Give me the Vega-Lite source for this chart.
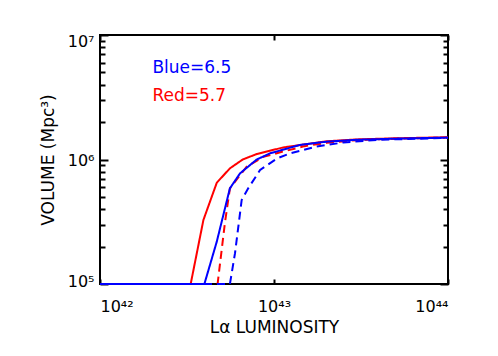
{
  "$schema": "https://vega.github.io/schema/vega-lite/v6.json",
  "width": 348,
  "height": 249,
  "autosize": {"type": "none"},
  "padding": {"left": 100, "top": 35, "right": 50, "bottom": 72},
  "background": "white",
  "config": {
    "view": {"stroke": "black", "strokeWidth": 2},
    "font": "DejaVu Sans",
    "axis": {"labelFont": "DejaVu Sans", "titleFont": "DejaVu Sans", "labelColor": "black", "titleColor": "black", "tickColor": "black", "grid": false, "domain": false, "tickWidth": 2, "labelFontSize": 16, "titleFontSize": 17, "titleFontWeight": "normal"}
  },
  "datasets": {
    "curves": [
      {"L": 1e42, "V": 1e5, "model": "red", "style": "solid"},
      {"L": 3.32e42, "V": 1e5, "model": "red", "style": "solid"},
      {"L": 3.93e42, "V": 3.27e5, "model": "red", "style": "solid"},
      {"L": 4.69e42, "V": 6.51e5, "model": "red", "style": "solid"},
      {"L": 5.58e42, "V": 8.49e5, "model": "red", "style": "solid"},
      {"L": 6.61e42, "V": 1.0e6, "model": "red", "style": "solid"},
      {"L": 7.96e42, "V": 1.107e6, "model": "red", "style": "solid"},
      {"L": 1.13e43, "V": 1.25e6, "model": "red", "style": "solid"},
      {"L": 2e43, "V": 1.40e6, "model": "red", "style": "solid"},
      {"L": 3e43, "V": 1.45e6, "model": "red", "style": "solid"},
      {"L": 5e43, "V": 1.48e6, "model": "red", "style": "solid"},
      {"L": 1e44, "V": 1.51e6, "model": "red", "style": "solid"},

      {"L": 1e42, "V": 1e5, "model": "red", "style": "dashed"},
      {"L": 4.74e42, "V": 1e5, "model": "red", "style": "dashed"},
      {"L": 5.22e42, "V": 3.08e5, "model": "red", "style": "dashed"},
      {"L": 5.58e42, "V": 5.87e5, "model": "red", "style": "dashed"},
      {"L": 6.96e42, "V": 8.75e5, "model": "red", "style": "dashed"},
      {"L": 8.68e42, "V": 1.05e6, "model": "red", "style": "dashed"},
      {"L": 1.13e43, "V": 1.16e6, "model": "red", "style": "dashed"},
      {"L": 1.5e43, "V": 1.28e6, "model": "red", "style": "dashed"},
      {"L": 2e43, "V": 1.36e6, "model": "red", "style": "dashed"},
      {"L": 3e43, "V": 1.43e6, "model": "red", "style": "dashed"},
      {"L": 5e43, "V": 1.47e6, "model": "red", "style": "dashed"},
      {"L": 1e44, "V": 1.50e6, "model": "red", "style": "dashed"},

      {"L": 1e42, "V": 1e5, "model": "blue", "style": "solid"},
      {"L": 3.98e42, "V": 1e5, "model": "blue", "style": "solid"},
      {"L": 4.69e42, "V": 2.19e5, "model": "blue", "style": "solid"},
      {"L": 5.58e42, "V": 5.87e5, "model": "blue", "style": "solid"},
      {"L": 6.38e42, "V": 7.74e5, "model": "blue", "style": "solid"},
      {"L": 7.96e42, "V": 1.0e6, "model": "blue", "style": "solid"},
      {"L": 9.48e42, "V": 1.12e6, "model": "blue", "style": "solid"},
      {"L": 1.41e43, "V": 1.31e6, "model": "blue", "style": "solid"},
      {"L": 2e43, "V": 1.39e6, "model": "blue", "style": "solid"},
      {"L": 3e43, "V": 1.44e6, "model": "blue", "style": "solid"},
      {"L": 5e43, "V": 1.47e6, "model": "blue", "style": "solid"},
      {"L": 1e44, "V": 1.50e6, "model": "blue", "style": "solid"},

      {"L": 1e42, "V": 1e5, "model": "blue", "style": "dashed"},
      {"L": 5.58e42, "V": 1e5, "model": "blue", "style": "dashed"},
      {"L": 5.97e42, "V": 1.77e5, "model": "blue", "style": "dashed"},
      {"L": 6.52e42, "V": 4.73e5, "model": "blue", "style": "dashed"},
      {"L": 7.11e42, "V": 5.87e5, "model": "blue", "style": "dashed"},
      {"L": 8.32e42, "V": 8.24e5, "model": "blue", "style": "dashed"},
      {"L": 1.04e43, "V": 1.02e6, "model": "blue", "style": "dashed"},
      {"L": 1.24e43, "V": 1.12e6, "model": "blue", "style": "dashed"},
      {"L": 1.76e43, "V": 1.27e6, "model": "blue", "style": "dashed"},
      {"L": 2.5e43, "V": 1.37e6, "model": "blue", "style": "dashed"},
      {"L": 4e43, "V": 1.44e6, "model": "blue", "style": "dashed"},
      {"L": 1e44, "V": 1.49e6, "model": "blue", "style": "dashed"}
    ],
    "notes": [
      {"L": 2e42, "V": 5.43e6, "label": "Blue=6.5", "model": "blue"},
      {"L": 2e42, "V": 3.24e6, "label": "Red=5.7", "model": "red"}
    ]
  },
  "layer": [
    {
      "data": {"name": "curves"},
      "transform": [{"filter": "datum.model == 'red'"}],
      "mark": {"type": "line", "strokeWidth": 2},
      "encoding": {
        "x": {"field": "L", "type": "quantitative",
          "scale": {"type": "log", "domain": [1e42, 1e44], "nice": false},
          "axis": {"orient": "bottom", "values": [1e42, 1e43, 1e44], "tickSize": -5, "labelPadding": 19,
            "labelExpr": "datum.value == 1e42 ? '10⁴²' : datum.value == 1e43 ? '10⁴³' : '10⁴⁴'",
            "title": "Lα LUMINOSITY", "titlePadding": 5}},
        "y": {"field": "V", "type": "quantitative",
          "scale": {"type": "log", "domain": [1e5, 1e7], "nice": false},
          "axis": {"orient": "left",
            "values": [100000, 1000000, 10000000],
            "tickSize": -8,
            "labelOverlap": false, "labelPadding": 14,
            "labelOffset": {"condition": [{"test": "datum.value == 10000000", "value": 6}, {"test": "datum.value == 100000", "value": -3}], "value": 1},
            "labelExpr": "datum.value == 100000 ? '10⁵' : datum.value == 1000000 ? '10⁶' : '10⁷'",
            "title": "VOLUME (Mpc³)", "titlePadding": 10}},
        "color": {"field": "model", "type": "nominal", "scale": {"domain": ["red", "blue"], "range": ["#ff0000", "#0000ff"]}, "legend": null},
        "strokeDash": {"field": "style", "type": "nominal", "scale": {"domain": ["solid", "dashed"], "range": [[1, 0], [8, 5]]}, "legend": null},
        "order": {"field": "L", "type": "quantitative"}
      }
    },
    {
      "data": {"name": "curves"},
      "transform": [{"filter": "datum.model == 'blue'"}],
      "mark": {"type": "line", "strokeWidth": 2},
      "encoding": {
        "x": {"field": "L", "type": "quantitative",
          "axis": {"orient": "top", "values": [1e42, 1e43, 1e44], "tickSize": -5, "labels": false, "title": null}},
        "y": {"field": "V", "type": "quantitative",
          "axis": {"orient": "left",
            "values": [200000, 300000, 400000, 500000, 600000, 700000, 800000, 900000, 2000000, 3000000, 4000000, 5000000, 6000000, 7000000, 8000000, 9000000],
            "tickSize": -5, "labels": false, "title": null}},
        "color": {"field": "model", "type": "nominal", "scale": {"domain": ["red", "blue"], "range": ["#ff0000", "#0000ff"]}, "legend": null},
        "strokeDash": {"field": "style", "type": "nominal", "scale": {"domain": ["solid", "dashed"], "range": [[1, 0], [8, 5]]}, "legend": null},
        "order": {"field": "L", "type": "quantitative"}
      }
    },
    {
      "data": {"name": "notes"},
      "transform": [{"filter": "datum.model == 'blue'"}],
      "mark": {"type": "text", "align": "left", "baseline": "middle", "fontSize": 17, "font": "DejaVu Sans"},
      "encoding": {
        "x": {"field": "L", "type": "quantitative", "axis": null},
        "y": {"field": "V", "type": "quantitative",
          "axis": {"orient": "right", "values": [100000, 1000000, 10000000], "tickSize": -8, "labels": false, "title": null}},
        "text": {"field": "label", "type": "nominal"},
        "color": {"field": "model", "type": "nominal", "scale": {"domain": ["red", "blue"], "range": ["#ff0000", "#0000ff"]}, "legend": null}
      }
    },
    {
      "data": {"name": "notes"},
      "transform": [{"filter": "datum.model == 'red'"}],
      "mark": {"type": "text", "align": "left", "baseline": "middle", "fontSize": 17, "font": "DejaVu Sans"},
      "encoding": {
        "x": {"field": "L", "type": "quantitative", "axis": null},
        "y": {"field": "V", "type": "quantitative",
          "axis": {"orient": "right",
            "values": [200000, 300000, 400000, 500000, 600000, 700000, 800000, 900000, 2000000, 3000000, 4000000, 5000000, 6000000, 7000000, 8000000, 9000000],
            "tickSize": -5, "labels": false, "title": null}},
        "text": {"field": "label", "type": "nominal"},
        "color": {"field": "model", "type": "nominal", "scale": {"domain": ["red", "blue"], "range": ["#ff0000", "#0000ff"]}, "legend": null}
      }
    }
  ],
  "resolve": {"axis": {"x": "independent", "y": "independent"}}
}
